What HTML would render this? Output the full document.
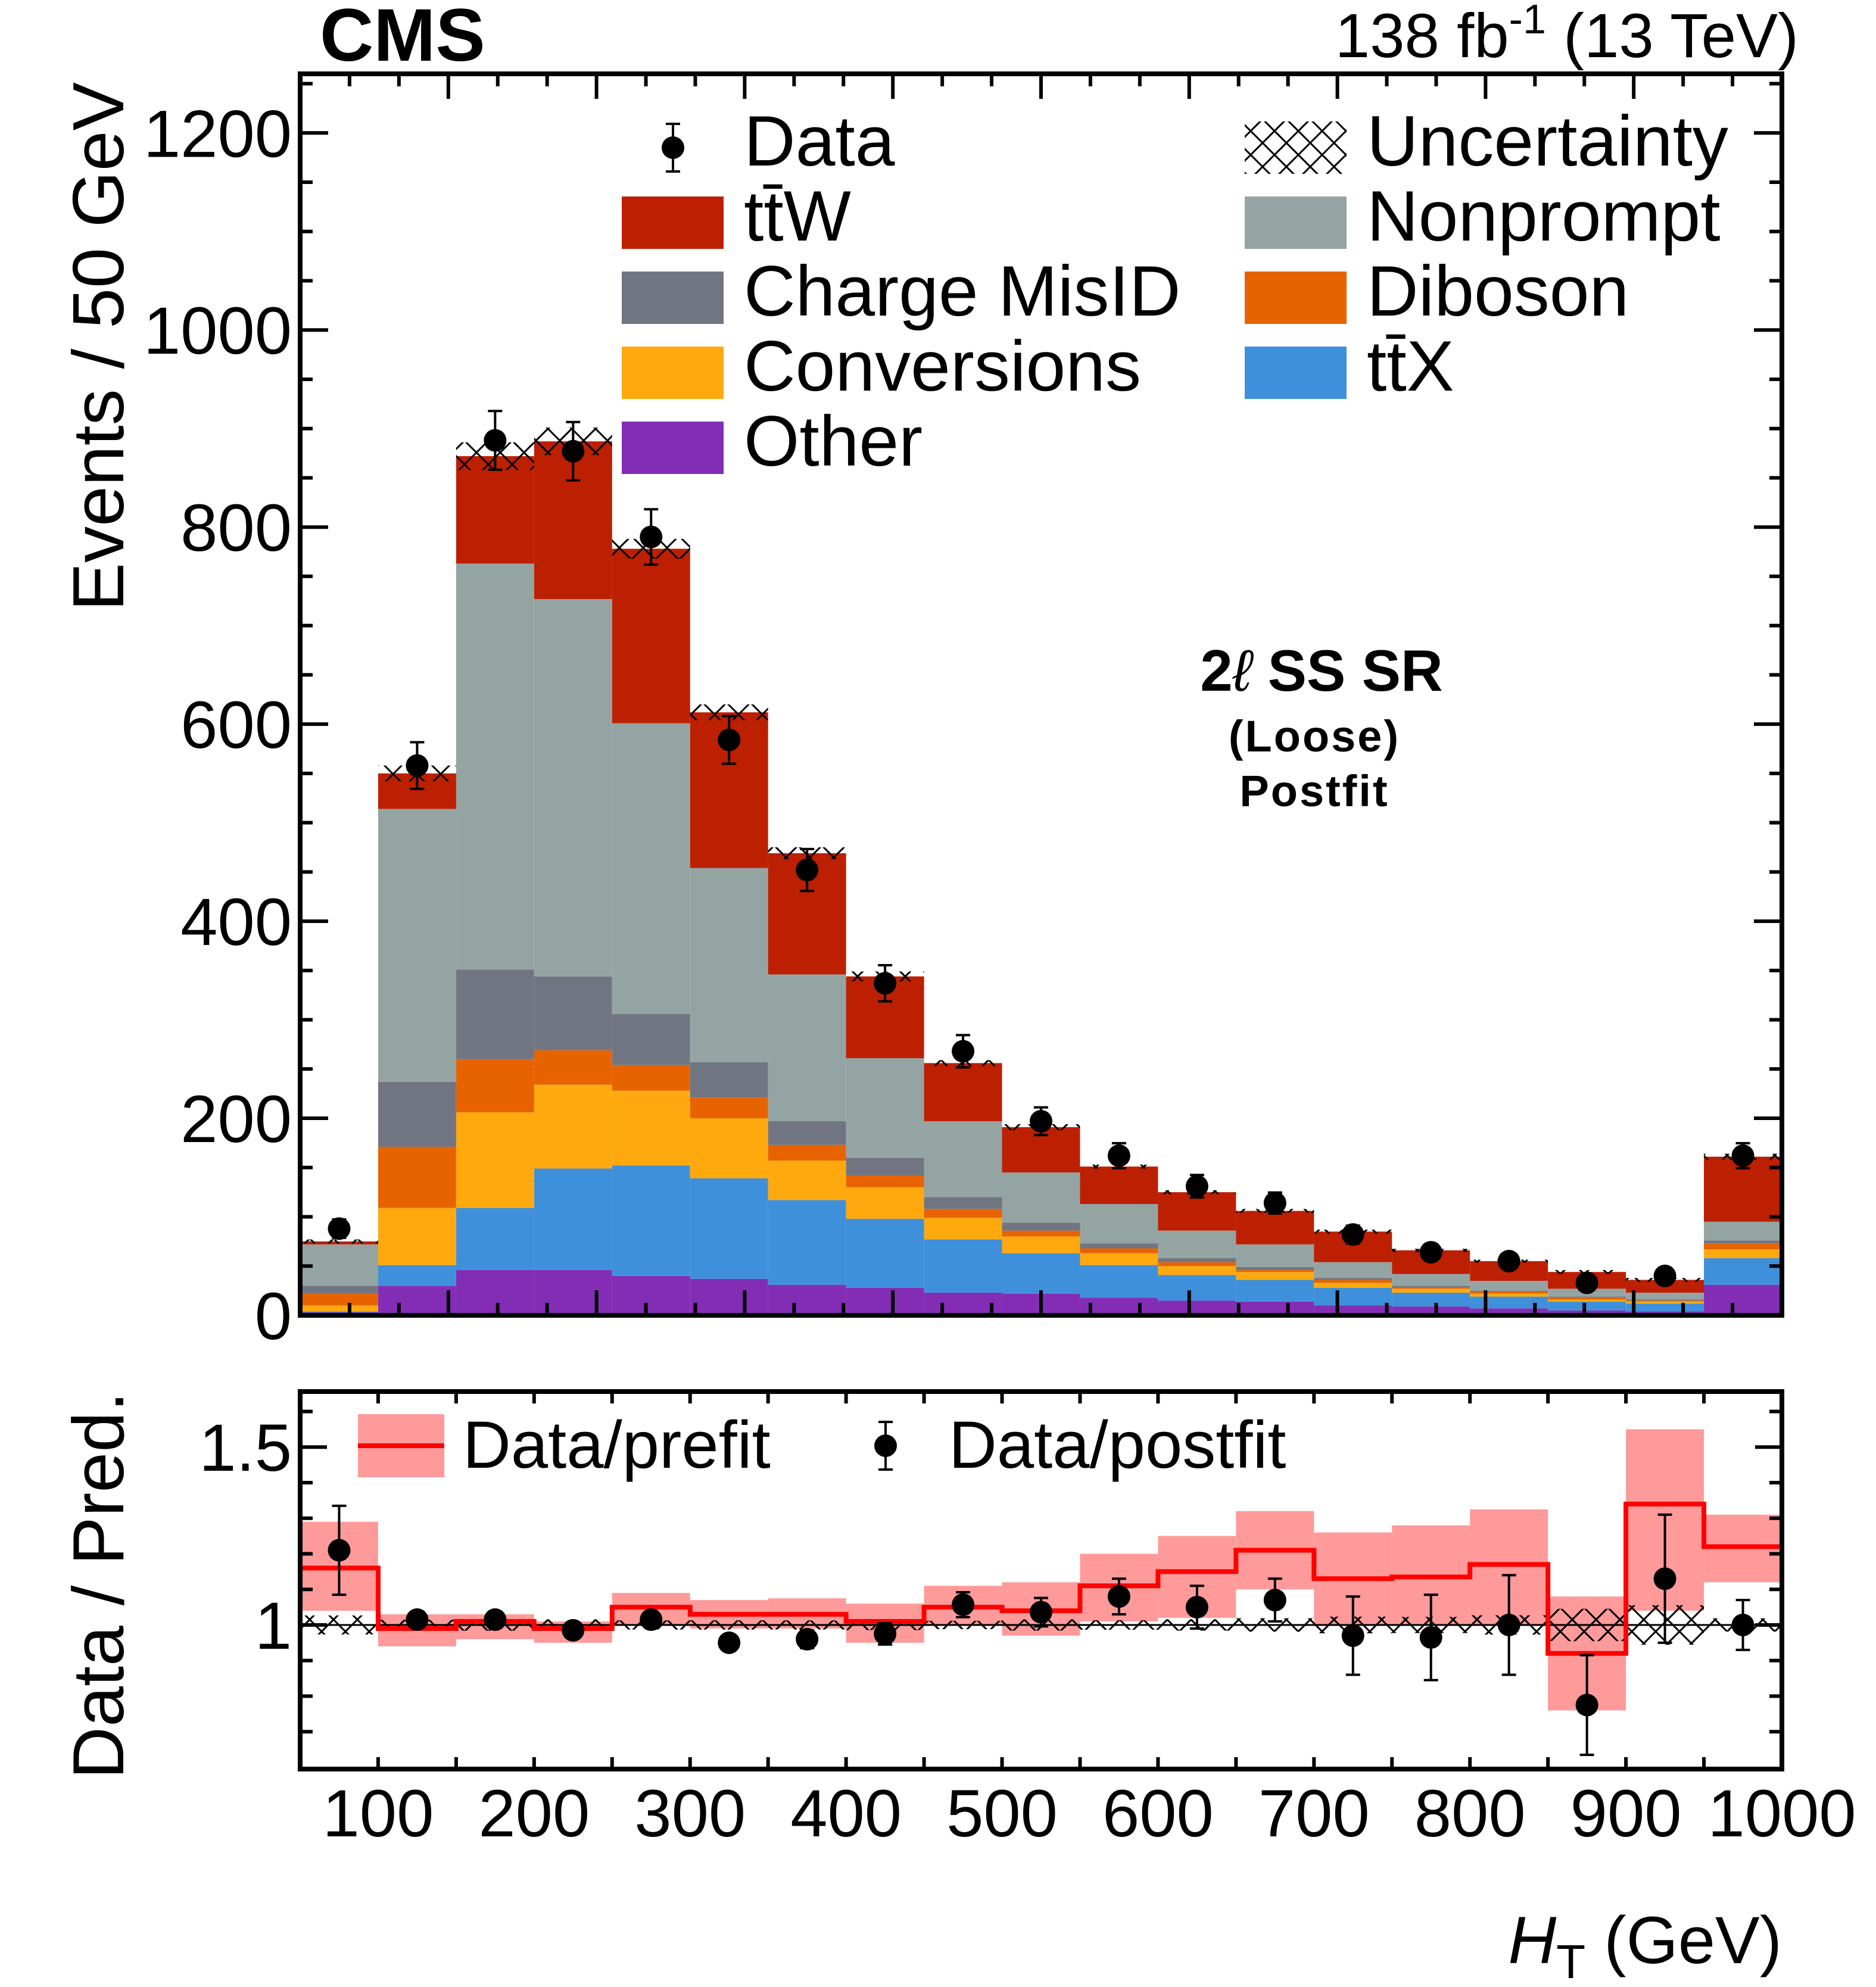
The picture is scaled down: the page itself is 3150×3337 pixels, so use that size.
<!DOCTYPE html>
<html><head><meta charset="utf-8">
<style>
html,body{margin:0;padding:0;background:#fff;}
svg{display:block;font-family:"Liberation Sans",Arial,sans-serif;}
</style></head>
<body>
<svg id="chart" width="3150" height="3337" viewBox="0 0 3150 3337" xmlns="http://www.w3.org/2000/svg">
<defs>
<pattern id="hatch" patternUnits="userSpaceOnUse" width="40" height="40">
<path d="M0,0 L40,40 M40,0 L0,40" stroke="#000" stroke-width="3" fill="none"/>
</pattern>
</defs>
<g id="main-plot"></g>
<g id="ratio-plot"></g>
<g id="labels">
<text x="537" y="102" font-size="125" font-weight="bold">CMS</text>
<text x="3020" y="96" font-size="105" text-anchor="end">138 fb<tspan dy="-40" font-size="70">-1</tspan><tspan dy="40"> (13 TeV)</tspan></text>
<text transform="translate(207,138) rotate(-90)" font-size="122" text-anchor="end">Events / 50 GeV</text>
<text transform="translate(207,2337) rotate(-90)" font-size="122" text-anchor="end">Data / Pred.</text>
<text x="2992" y="3297" font-size="112" text-anchor="end"><tspan font-style="italic">H</tspan><tspan dy="25" font-size="80">T</tspan><tspan dy="-25"> (GeV)</tspan></text>
<text x="2219" y="1160" font-size="98" font-weight="bold" text-anchor="middle">2<tspan font-style="italic" font-weight="normal">ℓ</tspan> SS SR</text>
<text x="2207" y="1262" font-size="74" font-weight="bold" text-anchor="middle" letter-spacing="3">(Loose)</text>
<text x="2207" y="1354" font-size="74" font-weight="bold" text-anchor="middle" letter-spacing="3">Postfit</text>
</g>
<g id="legend"></g>
</svg>
<script>
const binEdgesLow = [50,100,150,200,250,300,350,400,450,500,550,600,650,700,750,800,850,900,950];
const binWidth = 50;
const other = [3,30,46,46,40,37,31,28,23,22,18,15,14,10,9,7,5,4,31];
const ttX = [1,21,63,103,112,102,86,70,54,41,33,26,22,18,14,12,9,8,27];
const conversions = [6,58,97,85,76,61,40,32,22,17,12,9,8,5,4,3,2,2,9];
const diboson = [12,62,54,35,26,21,16,12,9,6,5,4,2,3,1,2,2,1,6];
const chargeMisID = [8,66,91,75,52,36,24,18,12,8,5,4,3,2,2,1,1,1,3];
const nonprompt = [42,277,412,383,295,197,149,101,77,51,40,28,23,16,12,10,8,7,19];
const ttW = [3,36,109,160,177,158,123,83,59,46,38,39,34,31,24,20,17,13,66];
const dataCounts = [88,558,888,877,790,584,452,337,268,197,162,131,114,82,64,55,33,40,162];
const uncAbs = [2,8,14,14,10,8,6,5,3,3,2,2,2,2,1.5,1.5,2,2,3];
const prefitRatio = [1.16,0.99,1.01,0.99,1.05,1.03,1.03,1.01,1.05,1.04,1.11,1.15,1.21,1.13,1.135,1.17,0.92,1.34,1.22];
const prefitLow = [1.04,0.94,0.96,0.95,1.0,0.99,0.99,0.95,1.0,0.97,1.01,1.02,1.10,1.0,1.0,1.0,0.76,1.04,1.12];
const prefitHigh = [1.29,1.03,1.03,1.01,1.09,1.07,1.075,1.06,1.11,1.12,1.2,1.25,1.32,1.26,1.28,1.325,1.08,1.55,1.31];
const postfitRatio = [1.21,1.015,1.015,0.985,1.015,0.95,0.96,0.975,1.057,1.036,1.08,1.05,1.07,0.97,0.965,1.0,0.775,1.13,1.0];
const postfitErr = [0.125,0.02,0.01,0.01,0.02,0.02,0.025,0.03,0.035,0.04,0.05,0.06,0.06,0.11,0.12,0.14,0.14,0.18,0.07];
const yTicksMain = [0,200,400,600,800,1000,1200];
const yTicksRatio = [1,1.5];
const xTickLabels = [100,200,300,400,500,600,700,800,900,1000];

const NS = "http://www.w3.org/2000/svg";
const L=504,R=2992,T=124,B=2209,RT=2337,RB=2971;
const xMin=50,xMax=1000,yMax=1260,rMin=0.595,rMax=1.656;
const X = v => L + (v-xMin)/(xMax-xMin)*(R-L);
const Y = v => B - v/yMax*(B-T);
const RY = v => RB - (v-rMin)/(rMax-rMin)*(RB-RT);
function el(tag, attrs, parent){const e=document.createElementNS(NS,tag);for(const k in attrs)e.setAttribute(k,attrs[k]);parent.appendChild(e);return e;}
const main=document.getElementById('main-plot');
const ratio=document.getElementById('ratio-plot');
const leg=document.getElementById('legend');

const series=[
 {n:'other',v:other,c:'#832db6'},
 {n:'ttx',v:ttX,c:'#3f90da'},
 {n:'conversions',v:conversions,c:'#ffa90e'},
 {n:'diboson',v:diboson,c:'#e76300'},
 {n:'charge-misid',v:chargeMisID,c:'#717581'},
 {n:'nonprompt',v:nonprompt,c:'#94a4a2'},
 {n:'ttw',v:ttW,c:'#bd1f01'}];
const totals=binEdgesLow.map(()=>0);
series.forEach(s=>{
  binEdgesLow.forEach((lo,i)=>{
    const b=totals[i], t=b+s.v[i];
    const r=el('rect',{x:X(lo),y:Y(t),width:X(lo+binWidth)-X(lo),height:Y(b)-Y(t),fill:s.c},main);
    
    
    totals[i]=t;
  });
});
binEdgesLow.forEach((lo,i)=>{
  const r=el('rect',{x:X(lo),y:Y(totals[i]+uncAbs[i]),width:X(lo+binWidth)-X(lo),height:Y(totals[i]-uncAbs[i])-Y(totals[i]+uncAbs[i]),fill:'url(#hatch)'},main);
  
  
});
binEdgesLow.forEach((lo,i)=>{
  const cx=X(lo+binWidth/2), e=Math.sqrt(dataCounts[i]);
  const g=el('g',{},main);
  
  
  el('line',{x1:cx,x2:cx,y1:Y(dataCounts[i]+e),y2:Y(dataCounts[i]-e),stroke:'#000','stroke-width':4},g);
  el('line',{x1:cx-12,x2:cx+12,y1:Y(dataCounts[i]+e),y2:Y(dataCounts[i]+e),stroke:'#000','stroke-width':4},g);
  el('line',{x1:cx-12,x2:cx+12,y1:Y(dataCounts[i]-e),y2:Y(dataCounts[i]-e),stroke:'#000','stroke-width':4},g);
  el('circle',{cx:cx,cy:Y(dataCounts[i]),r:19,fill:'#000'},g);
});
binEdgesLow.forEach((lo,i)=>{
  const r=el('rect',{x:X(lo),y:RY(prefitHigh[i]),width:X(lo+binWidth)-X(lo),height:RY(prefitLow[i])-RY(prefitHigh[i]),fill:'#ff9a9a'},ratio);
  
  
});
binEdgesLow.forEach((lo,i)=>{
  const rel=uncAbs[i]/totals[i];
  const r=el('rect',{x:X(lo),y:RY(1+rel),width:X(lo+binWidth)-X(lo),height:RY(1-rel)-RY(1+rel),fill:'url(#hatch)'},ratio);
  
  
});
const one=el('line',{x1:L,x2:R,y1:RY(1),y2:RY(1),stroke:'#000','stroke-width':3},ratio);


let d='';
binEdgesLow.forEach((lo,i)=>{d+=(i?'L':'M')+X(lo)+','+RY(prefitRatio[i])+'L'+X(lo+binWidth)+','+RY(prefitRatio[i]);});
const pl=el('path',{d:d,fill:'none',stroke:'#ff0000','stroke-width':8},ratio);


binEdgesLow.forEach((lo,i)=>{
  const cx=X(lo+binWidth/2),v=postfitRatio[i],e=postfitErr[i];
  const g=el('g',{},ratio);
  
  
  el('line',{x1:cx,x2:cx,y1:RY(v+e),y2:RY(v-e),stroke:'#000','stroke-width':4},g);
  el('line',{x1:cx-12,x2:cx+12,y1:RY(v+e),y2:RY(v+e),stroke:'#000','stroke-width':4},g);
  el('line',{x1:cx-12,x2:cx+12,y1:RY(v-e),y2:RY(v-e),stroke:'#000','stroke-width':4},g);
  el('circle',{cx:cx,cy:RY(v),r:19,fill:'#000'},g);
});
function frame(parent,t,b,name){
  const f=el('rect',{x:L,y:t,width:R-L,height:b-t,fill:'none',stroke:'#000','stroke-width':8},parent);
  
  
}
frame(main,T,B,'main-frame');frame(ratio,RT,RB,'ratio-frame');
const tg=el('g',{stroke:'#000','stroke-width':6},main);


for(let k=1;k<30;k++){const x=L+k*(R-L)/30,len=(k%3==0)?42:21;
  el('line',{x1:x,x2:x,y1:B,y2:B-len},tg);el('line',{x1:x,x2:x,y1:T,y2:T+len},tg);}
for(let v=50;v<yMax;v+=50){const y=Y(v),len=(v%200==0)?47:21;
  el('line',{x1:L,x2:L+len,y1:y,y2:y},tg);el('line',{x1:R,x2:R-len,y1:y,y2:y},tg);}
const rg=el('g',{stroke:'#000','stroke-width':6},ratio);


for(let v=100;v<1000;v+=50){const x=X(v);
  el('line',{x1:x,x2:x,y1:RB,y2:RB-20},rg);el('line',{x1:x,x2:x,y1:RT,y2:RT+20},rg);}
for(let k=7;k<=16;k++){const v=k/10,y=RY(v),len=(k==10||k==15)?45:21;
  el('line',{x1:L,x2:L+len,y1:y,y2:y},rg);el('line',{x1:R,x2:R-len,y1:y,y2:y},rg);}
yTicksMain.forEach(v=>{const t=el('text',{x:490,y:Y(v)+40,'font-size':112,'text-anchor':'end'},main);t.textContent=v;
  });
yTicksRatio.forEach(v=>{const t=el('text',{x:490,y:RY(v)+40,'font-size':112,'text-anchor':'end'},ratio);t.textContent=v;
  });
xTickLabels.forEach(v=>{const t=el('text',{x:X(v),y:3084,'font-size':112,'text-anchor':'middle'},ratio);t.textContent=v;
  });
const legItems=[
 {n:'ttw',c:'#bd1f01',t:'tt̄W',x:1044,y:374},
 {n:'charge-misid',c:'#717581',t:'Charge MisID',x:1044,y:500},
 {n:'conversions',c:'#ffa90e',t:'Conversions',x:1044,y:626},
 {n:'other',c:'#832db6',t:'Other',x:1044,y:752},
 {n:'nonprompt',c:'#94a4a2',t:'Nonprompt',x:2090,y:374},
 {n:'diboson',c:'#e76300',t:'Diboson',x:2090,y:500},
 {n:'ttx',c:'#3f90da',t:'tt̄X',x:2090,y:626}];
legItems.forEach(it=>{
  const g=el('g',{},leg);
  
  
  el('rect',{x:it.x,y:it.y-44,width:171,height:88,fill:it.c},g);
  const t=el('text',{x:it.x+205,y:it.y+30,'font-size':120},g);t.textContent=it.t;
});
{
  const g=el('g',{},leg);
  
  
  el('line',{x1:1130,x2:1130,y1:208,y2:288,stroke:'#000','stroke-width':4},g);
  el('line',{x1:1118,x2:1142,y1:208,y2:208,stroke:'#000','stroke-width':4},g);
  el('line',{x1:1118,x2:1142,y1:288,y2:288,stroke:'#000','stroke-width':4},g);
  el('circle',{cx:1130,cy:248,r:19,fill:'#000'},g);
  const t=el('text',{x:1249,y:278,'font-size':120},g);t.textContent='Data';
  const g2=el('g',{},leg);
  
  
  el('rect',{x:2090,y:204,width:171,height:88,fill:'url(#hatch)'},g2);
  const t2=el('text',{x:2295,y:278,'font-size':120},g2);t2.textContent='Uncertainty';
  const g3=el('g',{},leg);
  
  
  el('rect',{x:601,y:2375,width:145,height:106,fill:'#ff9a9a'},g3);
  el('line',{x1:601,x2:746,y1:2428,y2:2428,stroke:'#ff0000','stroke-width':8},g3);
  const t3=el('text',{x:777,y:2465,'font-size':112},g3);t3.textContent='Data/prefit';
  const g4=el('g',{},leg);
  
  
  el('line',{x1:1487,x2:1487,y1:2388,y2:2468,stroke:'#000','stroke-width':4},g4);
  el('line',{x1:1475,x2:1499,y1:2388,y2:2388,stroke:'#000','stroke-width':4},g4);
  el('line',{x1:1475,x2:1499,y1:2468,y2:2468,stroke:'#000','stroke-width':4},g4);
  el('circle',{cx:1487,cy:2428,r:19,fill:'#000'},g4);
  const t4=el('text',{x:1593,y:2465,'font-size':112},g4);t4.textContent='Data/postfit';
}
</script>
</body></html>
